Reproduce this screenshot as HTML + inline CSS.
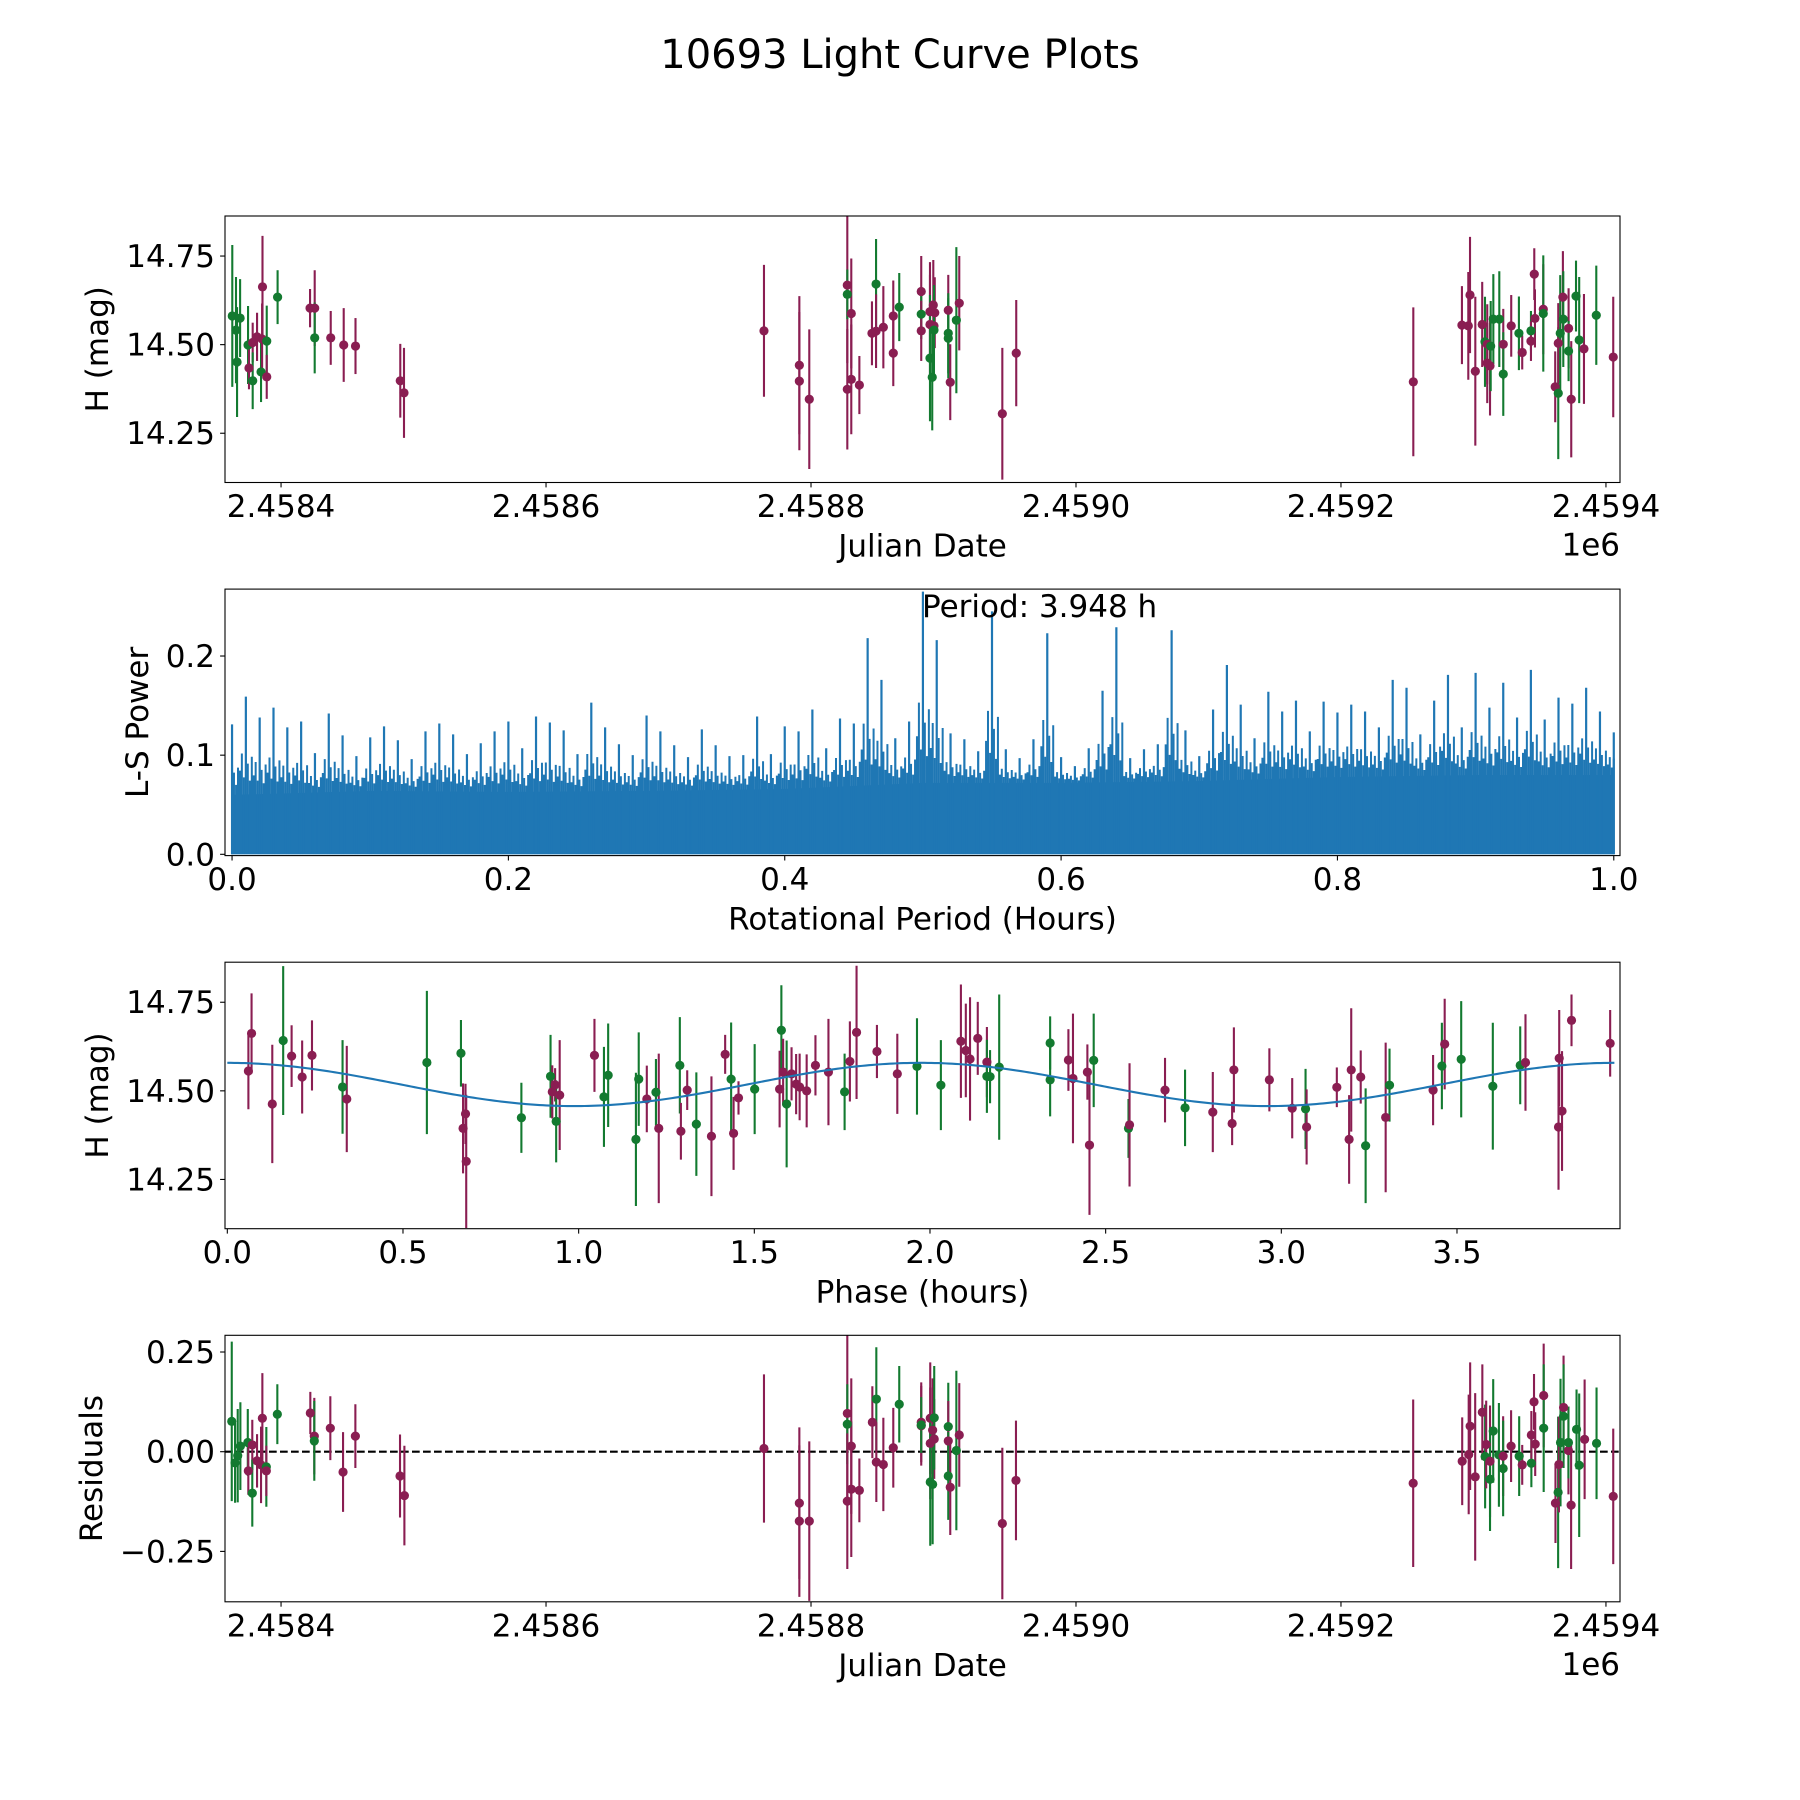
<!DOCTYPE html>
<html><head><meta charset="utf-8"><title>10693 Light Curve Plots</title>
<style>
html,body{margin:0;padding:0;background:#fff;}
svg{display:block;}
text{font-family:"DejaVu Sans","Liberation Sans",sans-serif;fill:#000;}
</style></head>
<body>
<svg id="fig" xmlns="http://www.w3.org/2000/svg" width="1800" height="1800" viewBox="0 0 1800 1800">
<rect x="0" y="0" width="1800" height="1800" fill="#fff"/>
<text x="900" y="68" font-size="40" text-anchor="middle">10693 Light Curve Plots</text>
</svg>
<script>
// ---------- DATA ----------
const JD0 = 2458400;
// Panel 1: observations (days after JD0)
const obsDay = [-36.8,-34.0,-33.2,-30.9,-24.9,-24.2,-21.4,-21.4,-18.1,-15.1,-14.0,-14.3,-10.8,-10.8,-2.6,21.9,25.4,25.4,37.5,47.3,56.2,90.0,92.8,
364.5,391.2,391.2,398.7,427.4,427.4,427.4,430.4,430.4,436.5,446.0,449.1,449.1,454.6,462.1,462.1,466.6,483.2,483.2,483.2,489.8,492.3,493.4,489.8,492.8,492.8,489.8,491.5,503.6,503.6,503.6,505.1,509.7,511.9,544.4,554.9,
854.6,891.3,896.1,897.4,901.4,906.6,908.7,910.4,910.4,912.5,913.0,915.0,919.5,922.5,922.5,928.5,934.3,936.8,943.4,943.4,945.9,946.4,952.7,952.7,961.7,964.0,964.0,965.5,967.5,967.8,971.8,971.8,973.8,977.4,979.8,983.4,992.7,1005.5];
const obsMag = [14.581,14.541,14.451,14.575,14.499,14.434,14.506,14.398,14.522,14.423,14.663,14.516,14.510,14.409,14.634,14.603,14.603,14.519,14.519,14.499,14.496,14.398,14.364,
14.539,14.442,14.397,14.346,14.668,14.374,14.642,14.588,14.402,14.386,14.532,14.671,14.538,14.549,14.581,14.476,14.606,14.650,14.586,14.539,14.593,14.612,14.590,14.557,14.553,14.541,14.462,14.408,14.597,14.532,14.518,14.394,14.569,14.617,14.305,14.476,
14.395,14.555,14.553,14.640,14.425,14.557,14.508,14.501,14.448,14.440,14.496,14.572,14.572,14.501,14.417,14.553,14.532,14.478,14.539,14.510,14.699,14.574,14.600,14.588,14.381,14.363,14.504,14.532,14.634,14.572,14.546,14.482,14.346,14.637,14.513,14.488,14.583,14.465];
const obsErr = [0.20,0.15,0.155,0.11,0.11,0.06,0.056,0.08,0.068,0.085,0.144,0.1,0.1,0.062,0.076,0.054,0.107,0.10,0.076,0.104,0.079,0.104,0.127,
0.186,0.195,0.195,0.197,0.22,0.17,0.07,0.155,0.155,0.082,0.09,0.127,0.104,0.116,0.1,0.093,0.096,0.1,0.07,0.085,0.14,0.127,0.1,0.14,0.085,0.127,0.178,0.15,0.1,0.113,0.113,0.107,0.206,0.133,0.186,0.15,
0.21,0.11,0.152,0.164,0.21,0.12,0.127,0.113,0.113,0.14,0.127,0.127,0.135,0.1,0.118,0.087,0.104,0.048,0.056,0.056,0.073,0.082,0.127,0.164,0.1,0.186,0.113,0.164,0.13,0.135,0.113,0.085,0.164,0.1,0.178,0.155,0.14,0.17];
const obsBand = "gggggmmgmgmmgmgmmgmmmmm" +
  "mmmmmmgmmmmgmmmmgmgmmmmmmgggmggmgmmm" +
  "mmmmmmgmmmgggmgmgmgmmmmgmgmgmgmgmggmgmmm";
// Panel 2: periodogram, max power per 0.01-h bin and background floor per 0.1 h
const lsPeak = [0.131,0.159,0.138,0.148,0.128,0.134,0.102,0.142,0.12,0.099,0.118,0.129,0.115,0.096,0.124,0.132,0.121,0.101,0.112,0.124,
0.134,0.107,0.139,0.133,0.125,0.101,0.153,0.128,0.111,0.1,0.14,0.124,0.11,0.098,0.126,0.11,0.099,0.1,0.139,0.101,
0.129,0.124,0.146,0.107,0.137,0.132,0.218,0.176,0.117,0.134,0.265,0.216,0.122,0.116,0.104,0.245,0.106,0.097,0.116,0.223,
0.098,0.089,0.107,0.165,0.229,0.097,0.106,0.111,0.226,0.125,0.099,0.146,0.191,0.151,0.117,0.164,0.144,0.155,0.124,0.154,
0.143,0.151,0.144,0.128,0.176,0.168,0.121,0.155,0.181,0.128,0.183,0.148,0.173,0.138,0.186,0.136,0.158,0.152,0.168,0.144,0.123];
const lsFloor = [0.06,0.064,0.063,0.064,0.066,0.072,0.072,0.074,0.078,0.08,0.08];
const periodLabel = "Period: 3.948 h";
// Panel 3: phased data (hours) and model
const phaseHr = [0.060,0.069,0.128,0.159,0.183,0.213,0.241,0.328,0.340,0.568,0.665,0.671,0.678,0.680,0.837,0.920,0.925,0.933,0.946,0.936,1.045,1.072,1.084,1.163,1.171,1.194,1.220,1.228,1.288,1.291,1.309,1.335,1.378,1.417,1.434,1.441,1.455,1.501,1.572,1.577,1.582,1.592,1.606,1.619,1.629,1.649,1.674,1.711,1.757,1.772,1.791,1.849,1.907,1.963,
2.031,2.088,2.102,2.114,2.136,2.162,2.162,2.171,2.197,2.342,2.342,2.394,2.407,2.448,2.454,2.466,2.565,2.568,2.669,2.726,2.805,2.860,2.865,2.966,3.031,3.069,3.072,3.158,3.193,3.199,3.226,3.240,3.297,3.308,3.432,3.457,3.465,3.512,3.602,3.680,3.695,3.789,3.791,3.799,3.826,3.936];
const phaseMag = [14.556,14.662,14.463,14.642,14.598,14.539,14.600,14.511,14.477,14.580,14.606,14.394,14.435,14.301,14.424,14.541,14.497,14.517,14.488,14.414,14.600,14.483,14.544,14.363,14.533,14.477,14.496,14.394,14.572,14.386,14.502,14.406,14.372,14.603,14.533,14.380,14.480,14.505,14.505,14.671,14.553,14.463,14.548,14.519,14.511,14.500,14.572,14.553,14.497,14.583,14.665,14.611,14.548,14.569,
14.516,14.640,14.614,14.590,14.648,14.581,14.541,14.540,14.567,14.635,14.531,14.587,14.535,14.553,14.347,14.586,14.394,14.404,14.502,14.452,14.440,14.408,14.559,14.531,14.451,14.449,14.398,14.510,14.363,14.559,14.539,14.345,14.425,14.516,14.502,14.570,14.632,14.589,14.513,14.572,14.580,14.398,14.592,14.443,14.699,14.634];
const phaseErr = [0.108,0.113,0.167,0.21,0.087,0.103,0.099,0.132,0.15,0.202,0.094,0.127,0.085,0.188,0.099,0.117,0.075,0.047,0.155,0.116,0.103,0.141,0.146,0.188,0.132,0.094,0.094,0.211,0.136,0.08,0.056,0.146,0.169,0.055,0.16,0.103,0.047,0.127,0.108,0.127,0.094,0.179,0.075,0.085,0.094,0.103,0.085,0.15,0.108,0.113,0.188,0.075,0.113,0.136,
0.127,0.16,0.132,0.174,0.103,0.099,0.103,0.075,0.205,0.075,0.103,0.087,0.183,0.078,0.197,0.132,0.083,0.174,0.091,0.108,0.113,0.061,0.12,0.089,0.085,0.113,0.106,0.056,0.125,0.174,0.075,0.162,0.211,0.103,0.099,0.122,0.128,0.164,0.179,0.11,0.136,0.177,0.136,0.169,0.073,0.094];
const phaseBand = "mmmgmmmgmggmmmggmmmgmggggmgmgmmgmmgmmgmgmgmmmmmmgmmmmg" +
  "gmmmmmgggggmmmmggmmgmmmmmgmmmmmgmgmgmgggmmmmmm";
const modelMean = 14.518, modelAmp = 0.061, modelPeriod = 3.948;
// Panel 4: residuals
const resDay = [-37.2,-34.7,-32.7,-30.7,-25.1,-24.7,-21.7,-21.7,-18.1,-15.1,-14.1,-11.1,-11.1,-2.8,22.1,25.1,25.1,37.2,46.8,56.1,89.8,93.1,
364.5,391.2,391.2,398.7,427.4,427.4,427.4,430.4,430.4,436.5,446.3,449.3,449.3,454.6,462.1,466.6,483.2,483.2,483.2,490.0,491.8,493.0,490.0,493.0,490.0,491.8,503.6,503.6,503.6,505.1,509.7,511.9,544.4,554.7,
854.5,891.5,896.4,897.5,901.3,906.7,908.8,909.6,912.5,912.5,914.9,919.2,922.4,922.4,928.4,934.5,936.8,943.7,943.7,945.7,946.6,953.0,953.0,961.9,963.9,964.5,965.7,968.0,968.0,971.7,971.7,973.7,977.8,979.8,983.9,992.9,1005.5];
const resVal = [0.076,-0.028,-0.010,0.014,0.023,-0.048,0.017,-0.104,-0.023,-0.033,0.084,-0.038,-0.048,0.094,0.097,0.039,0.027,0.059,-0.051,0.039,-0.061,-0.110,
0.008,-0.129,-0.174,-0.174,0.096,0.069,-0.124,0.014,-0.094,-0.097,0.074,0.132,-0.026,-0.032,0.010,0.119,0.074,0.065,0.067,0.084,0.054,0.032,0.021,0.085,-0.076,-0.082,0.063,0.027,-0.061,-0.089,0.003,0.042,-0.180,-0.072,
-0.079,-0.024,-0.007,0.064,-0.063,0.099,-0.012,0.018,-0.024,-0.069,0.052,-0.008,-0.011,-0.042,0.014,-0.011,-0.033,-0.029,0.042,0.125,0.019,0.141,0.059,-0.129,-0.102,-0.032,0.023,0.111,0.089,0.003,0.023,-0.134,0.056,-0.034,0.031,0.021,-0.112];
const resErr = [0.2,0.1,0.117,0.11,0.084,0.06,0.063,0.084,0.067,0.096,0.113,0.1,0.063,0.075,0.053,0.096,0.1,0.08,0.1,0.08,0.104,0.125,
0.186,0.19,0.19,0.2,0.22,0.1,0.17,0.17,0.17,0.08,0.09,0.13,0.1,0.117,0.1,0.096,0.1,0.1,0.07,0.14,0.13,0.1,0.14,0.13,0.16,0.15,0.11,0.1,0.11,0.12,0.2,0.13,0.19,0.15,
0.21,0.11,0.15,0.16,0.21,0.12,0.13,0.11,0.14,0.13,0.13,0.13,0.1,0.12,0.09,0.1,0.05,0.06,0.06,0.07,0.08,0.13,0.16,0.1,0.19,0.12,0.16,0.13,0.13,0.11,0.09,0.16,0.1,0.18,0.15,0.14,0.17];
const resBand = "gggggmmgmmmgmgmmgmmmmm" +
  "mmmmmgmmmmmgmmmgmmgmmmmggggmgmgmmm" +
  "mmmmmmgmmgggmgmgmgmmmmgmgmgmgmgmggmgmmm";
// Axis ticks
const jdTicks = [0,200,400,600,800,1000];
const jdTickLabels = ["2.4584","2.4586","2.4588","2.4590","2.4592","2.4594"];
const magTicks = [14.25,14.50,14.75];
const magTickLabels = ["14.25","14.50","14.75"];
const perTicks = [0,0.2,0.4,0.6,0.8,1.0];
const perTickLabels = ["0.0","0.2","0.4","0.6","0.8","1.0"];
const powTicks = [0,0.1,0.2];
const powTickLabels = ["0.0","0.1","0.2"];
const phTicks = [0,0.5,1,1.5,2,2.5,3,3.5];
const phTickLabels = ["0.0","0.5","1.0","1.5","2.0","2.5","3.0","3.5"];
const resTicks = [-0.25,0,0.25];
const resTickLabels = ["\u22120.25","0.00","0.25"];

// ---------- DRAWING ----------
const NS = "http://www.w3.org/2000/svg";
const svg = document.getElementById('fig');
const COL = {m:'#8a1e52', g:'#137a30'};
const L = 225, R = 1620, H = 266.5;
const TOPS = [216, 589.1, 962.2, 1335.3];
function mk(tag, attrs, parent){
  const e = document.createElementNS(NS, tag);
  for (const k in attrs) e.setAttribute(k, attrs[k]);
  (parent||svg).appendChild(e); return e;
}
function lin(d0,d1,r0,r1){ return v => r0 + (v-d0)/(d1-d0)*(r1-r0); }

function makeAxes(idx, name, xdom, ydom){
  const top = TOPS[idx], bot = top + H;
  const g = mk('g', {});
  
  
  const cp = mk('clipPath', {id:'clip'+idx}, g);
  mk('rect', {x:L, y:top, width:R-L, height:H}, cp);
  const plot = mk('g', {'clip-path':'url(#clip'+idx+')'}, g);
  
  
  return {g, plot, top, bot, x: lin(xdom[0],xdom[1],L,R), y: lin(ydom[0],ydom[1],bot,top)};
}
function finishAxes(ax, xt, xl, yt, yl, xlabel, ylabel, ylabelX, ynameBase){
  const fr = mk('rect', {x:L, y:ax.top, width:R-L, height:H, fill:'none', stroke:'#000', 'stroke-width':1.1}, ax.g);
  
  
  xt.forEach((v,i)=>{
    const px = ax.x(v);
    mk('line', {x1:px, x2:px, y1:ax.bot, y2:ax.bot+4.9, stroke:'#000', 'stroke-width':1.1}, ax.g);
    const t = mk('text', {x:px, y:ax.bot+34.5, 'font-size':31, 'text-anchor':'middle'}, ax.g);
    t.textContent = xl[i];
    
    
  });
  yt.forEach((v,i)=>{
    const py = ax.y(v);
    mk('line', {x1:L-4.9, x2:L, y1:py, y2:py, stroke:'#000', 'stroke-width':1.1}, ax.g);
    const t = mk('text', {x:L-10, y:py+11, 'font-size':31, 'text-anchor':'end'}, ax.g);
    t.textContent = yl[i];
    
    
  });
  const xlab = mk('text', {x:(L+R)/2, y:ax.bot+74, 'font-size':31, 'text-anchor':'middle'}, ax.g);
  xlab.textContent = xlabel;
  
  
  const cy = ax.top + H/2;
  const ylab = mk('text', {x:ylabelX, y:cy, 'font-size':31, 'text-anchor':'middle', 'dominant-baseline':'central', transform:'rotate(-90 '+ylabelX+' '+cy+')'}, ax.g);
  ylab.textContent = ylabel;
  
  
}
function errPoints(ax, xs, ys, es, bands, nm){
  for (let i=0;i<xs.length;i++){
    const c = COL[bands[i]] || COL.m;
    const px = ax.x(xs[i]);
    const eb = mk('line', {x1:px, x2:px, y1:ax.y(ys[i]-es[i]), y2:ax.y(ys[i]+es[i]), stroke:c, 'stroke-width':2.1}, ax.plot);
    
    
  }
  for (let i=0;i<xs.length;i++){
    const c = COL[bands[i]] || COL.m;
    const d = mk('circle', {cx:ax.x(xs[i]), cy:ax.y(ys[i]), r:4.6, fill:c}, ax.plot);
    
    
  }
}
function oneE6(ax){
  const t = mk('text', {x:R, y:ax.bot+73, 'font-size':31, 'text-anchor':'end'}, ax.g);
  t.textContent = '1e6';
  
  
}

// Panel 1
const a1 = makeAxes(0, 'light-curve-panel', [-42.3,1010.6], [14.111,14.863]);
errPoints(a1, obsDay, obsMag, obsErr, obsBand, 'observation');
finishAxes(a1, jdTicks, jdTickLabels, magTicks, magTickLabels, 'Julian Date', 'H (mag)', 98, 'light-curve');
oneE6(a1);

// Panel 2
const a2 = makeAxes(1, 'periodogram-panel', [-0.0051,1.0045], [-0.0013,0.2675]);
(function(){
  let d = 'M'+a2.x(0)+','+a2.y(0);
  for (let i=0;i<lsFloor.length;i++) d += ' L'+a2.x(i*0.1)+','+a2.y(lsFloor[i]);
  d += ' L'+a2.x(1)+','+a2.y(0)+' Z';
  const f = mk('path', {d:d, fill:'#1f77b4'}, a2.plot);
  
  
  function floorAt(p){ p=Math.max(0,Math.min(1,p)); const k=Math.min(9,Math.floor(p*10)); const t=p*10-k; return lsFloor[k]*(1-t)+lsFloor[k+1]*t; }
  // texture spikes (style only): offset within bin, fraction of peak above floor
  const texOff = [-0.0043,-0.0029,-0.0014,0.0014,0.0029,0.0043];
  const texFrac = [0.35,0.6,0.25,0.45,0.2,0.55];
  let dm = '';
  for (let i=0;i<lsPeak.length;i++){
    const p = i*0.01;
    for (let j=0;j<texOff.length;j++){
      const q = Math.max(0,Math.min(1,p+texOff[j]));
      const fl = floorAt(q);
      const h = fl + texFrac[j]*(lsPeak[i]-fl)*0.7;
      dm += 'M'+a2.x(q).toFixed(2)+','+a2.y(0).toFixed(2)+'V'+a2.y(h).toFixed(2);
    }
  }
  const m = mk('path', {d:dm, fill:'none', stroke:'#1f77b4', 'stroke-width':2}, a2.plot);
  
  
  for (let i=0;i<lsPeak.length;i++){
    const p = i*0.01;
    const s = mk('line', {x1:a2.x(p), x2:a2.x(p), y1:a2.y(0), y2:a2.y(lsPeak[i]), stroke:'#1f77b4', 'stroke-width':2.2}, a2.plot);
    
    
  }
})();
finishAxes(a2, perTicks, perTickLabels, powTicks, powTickLabels, 'Rotational Period (Hours)', 'L-S Power', 138, 'periodogram');
const pl = mk('text', {x:922, y:617, 'font-size':31, 'text-anchor':'start'}, a2.g);
pl.textContent = periodLabel;



// Panel 3
const a3 = makeAxes(2, 'phase-panel', [-0.0066,3.964], [14.111,14.863]);
errPoints(a3, phaseHr, phaseMag, phaseErr, phaseBand, 'phased-observation');
(function(){
  let d='';
  for (let i=0;i<=400;i++){
    const h = modelPeriod*i/400;
    const m = modelMean + modelAmp*Math.cos(4*Math.PI*h/modelPeriod);
    d += (i?' L':'M')+a3.x(h).toFixed(2)+','+a3.y(m).toFixed(2);
  }
  const p = mk('path', {d:d, fill:'none', stroke:'#1f77b4', 'stroke-width':2.1}, a3.plot);
  
  
})();
finishAxes(a3, phTicks, phTickLabels, magTicks, magTickLabels, 'Phase (hours)', 'H (mag)', 98, 'phase');

// Panel 4
const a4 = makeAxes(3, 'residuals-panel', [-42.3,1010.6], [-0.3764,0.2919]);
const zl = mk('line', {x1:L, x2:R, y1:a4.y(0), y2:a4.y(0), stroke:'#000', 'stroke-width':2.1, 'stroke-dasharray':'7.7 3.3'}, a4.plot);


errPoints(a4, resDay, resVal, resErr, resBand, 'residual');
finishAxes(a4, jdTicks, jdTickLabels, resTicks, resTickLabels, 'Julian Date', 'Residuals', 92, 'residuals');
oneE6(a4);
</script>
</body></html>
